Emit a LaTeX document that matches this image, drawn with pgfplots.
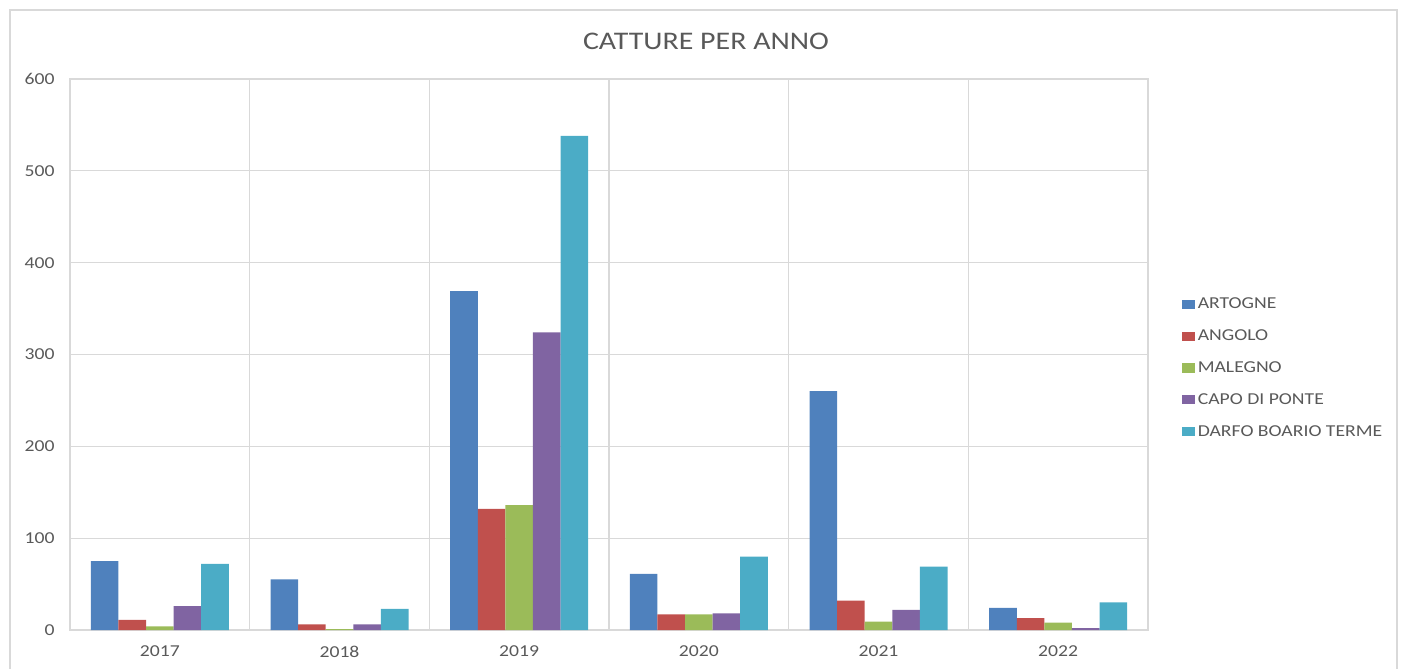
\documentclass[border=0pt]{standalone}
\usepackage{fontspec}
\setmainfont{Carlito}[FakeStretch=1.18]
\usepackage{pgfplots}
\pgfplotsset{compat=1.18}
\definecolor{c1}{HTML}{4F81BD}
\definecolor{c2}{HTML}{C0504D}
\definecolor{c3}{HTML}{9BBB59}
\definecolor{c4}{HTML}{8064A2}
\definecolor{c5}{HTML}{4BACC6}
\definecolor{gridc}{HTML}{D9D9D9}
\definecolor{txt}{HTML}{595959}
\pgfplotsset{sqleg/.style={legend image code/.code={\fill[##1] (0pt,-3.4pt) rectangle (9.5pt,3.4pt);}}}
\begin{document}
\begin{tikzpicture}
\begin{scope}[x=0.75pt,y=0.75pt]
\path[use as bounding box] (0,0) rectangle (1402,668);
\draw[gridc, line width=1pt] (10,-10) rectangle (1397,658);
\node[text=txt, font=\fontsize{19}{22}\selectfont] at (706,627) {CATTURE PER ANNO};
\end{scope}
\begin{axis}[
  at={(52.5pt,28.5pt)}, anchor=south west,
  scale only axis, width=808.5pt, height=413.25pt,
  ybar=0pt, bar width=20.7pt,
  xmin=-0.5, xmax=5.5, ymin=0, ymax=600,
  xtick={0,1,2,3,4,5},
  xticklabels={2017,2018,2019,2020,2021,2022},
  minor xtick={-0.5,0.5,1.5,2.5,3.5,4.5,5.5},
  ytick={0,100,200,300,400,500,600},
  xminorgrids=true, xmajorgrids=false, ymajorgrids=true,
  grid style={gridc, line width=0.9pt},
  minor grid style={gridc, line width=0.9pt},
  axis line style={gridc, line width=0.9pt},
  major tick length=0pt, minor tick length=0pt,
  tick label style={text=txt, font=\fontsize{12.5}{14}\selectfont},
  /pgf/number format/assume math mode=true,
  yticklabel style={xshift=-8pt},
  xticklabel style={yshift=-8.5pt},
  legend style={at={(1.028,0.4755)}, anchor=west, draw=none, fill=none,
    font=\fontsize{12.5}{14}\selectfont, text=txt, row sep=10.25pt,
    /tikz/every even column/.append style={column sep=1pt}},
  legend cell align=left,
]
\addplot[fill=c1, draw=none, sqleg] coordinates {(0,75) (1,55) (2,369) (3,61) (4,260) (5,24)};
\addplot[fill=c2, draw=none, sqleg] coordinates {(0,11) (1,6) (2,132) (3,17) (4,32) (5,13)};
\addplot[fill=c3, draw=none, sqleg] coordinates {(0,4) (1,1) (2,136) (3,17) (4,9) (5,8)};
\addplot[fill=c4, draw=none, sqleg] coordinates {(0,26) (1,6) (2,324) (3,18) (4,22) (5,2)};
\addplot[fill=c5, draw=none, sqleg] coordinates {(0,72) (1,23) (2,538) (3,80) (4,69) (5,30)};
\legend{ARTOGNE,ANGOLO,MALEGNO,CAPO DI PONTE,DARFO BOARIO TERME}
\end{axis}
\end{tikzpicture}
\end{document}
